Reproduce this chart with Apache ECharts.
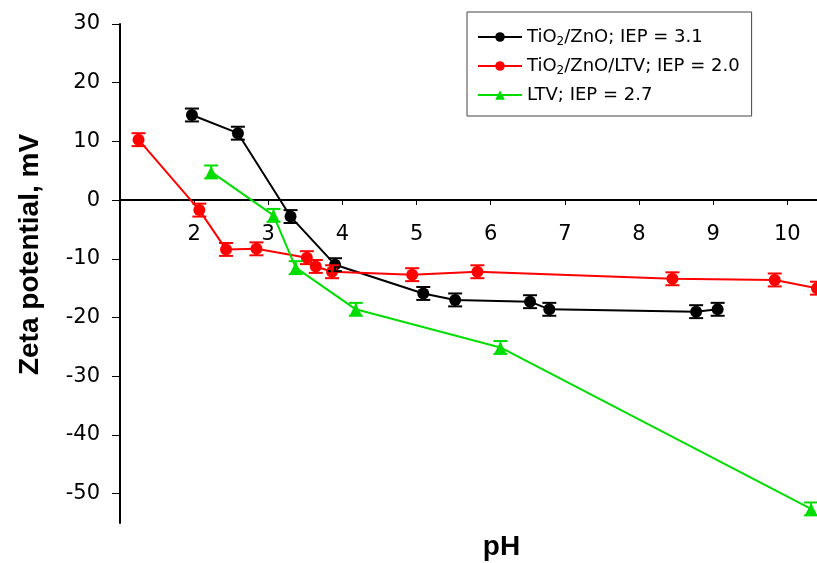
<!DOCTYPE html>
<html>
<head>
<meta charset="UTF-8">
<title>Zeta potential vs pH</title>
<script src="https://cdn.jsdelivr.net/npm/echarts@6/dist/echarts.min.js"></script>
<style>
  * { margin: 0; padding: 0; }
  body { background: #fff; }
  #chart { width: 817px; height: 563px; }
</style>
</head>
<body>
<div id="chart"></div>
<script>
// TiO2/ZnO
var phBlack   = [1.97, 2.59, 3.30, 3.90, 5.09, 5.52, 6.53, 6.79, 8.77, 9.06];
var zetaBlack = [14.5, 11.4, -2.8, -11.0, -15.9, -17.0, -17.3, -18.6, -19.0, -18.6];
var errBlack  = [1.1, 1.1, 1.1, 1.1, 1.1, 1.1, 1.1, 1.1, 1.1, 1.1];
// TiO2/ZnO/LTV
var phRed   = [1.25, 2.07, 2.43, 2.84, 3.52, 3.64, 3.86, 4.94, 5.82, 8.45, 9.83, 10.40];
var zetaRed = [10.3, -1.7, -8.4, -8.3, -9.8, -11.3, -12.2, -12.7, -12.2, -13.4, -13.6, -15.0];
var errRed  = [1.1, 1.1, 1.1, 1.1, 1.1, 1.1, 1.1, 1.1, 1.1, 1.1, 1.1, 1.1];
// LTV
var phGreen   = [2.23, 3.07, 3.37, 4.18, 6.13, 10.32];
var zetaGreen = [4.8, -2.6, -11.5, -18.6, -25.1, -52.6];
var errGreen  = [1.1, 1.1, 1.1, 1.1, 1.1, 1.1];

var xTicks = [2, 3, 4, 5, 6, 7, 8, 9, 10];
var yTicks = [-50, -40, -30, -20, -10, 0, 10, 20, 30];

var names = ['TiO2/ZnO; IEP = 3.1', 'TiO2/ZnO/LTV; IEP = 2.0', 'LTV; IEP = 2.7'];

function pairs(xs, ys) {
    return xs.map(function (x, i) { return [x, ys[i]]; });
}
function triples(xs, ys, es) {
    return xs.map(function (x, i) { return [x, ys[i], es[i]]; });
}

function errorBars(color) {
    return function (params, api) {
        var x = api.value(0), y = api.value(1), e = api.value(2);
        var hi = api.coord([x, y + e]);
        var lo = api.coord([x, y - e]);
        var w = 7;
        var st = { stroke: color, lineWidth: 2 };
        return {
            type: 'group',
            children: [
                { type: 'line', shape: { x1: hi[0], y1: hi[1], x2: lo[0], y2: lo[1] }, style: st },
                { type: 'line', shape: { x1: hi[0] - w, y1: hi[1], x2: hi[0] + w, y2: hi[1] }, style: st },
                { type: 'line', shape: { x1: lo[0] - w, y1: lo[1], x2: lo[0] + w, y2: lo[1] }, style: st }
            ]
        };
    };
}

function lineSeries(name, data, color, symbol, size) {
    return {
        name: name,
        type: 'line',
        data: data,
        symbol: symbol,
        symbolSize: size,
        lineStyle: { color: color, width: 2 },
        itemStyle: { color: color },
        animation: false,
        z: 3
    };
}
function errSeries(data, color) {
    return {
        type: 'custom',
        data: data,
        renderItem: errorBars(color),
        animation: false,
        silent: true,
        z: 4
    };
}

var chart = echarts.init(document.getElementById('chart'), null, { renderer: 'canvas' });

var font = 'Liberation Sans, Arial, sans-serif';
var tickFont = 'DejaVu Sans, sans-serif';

chart.setOption({
    backgroundColor: '#fff',
    textStyle: { fontFamily: font },
    grid: { left: 120, top: 24, right: 0, bottom: 40, containLabel: false, outerBoundsMode: 'none' },
    legend: {
        data: names,
        orient: 'vertical',
        left: 467,
        top: 12,
        padding: [16, 12, 12, 10],
        itemWidth: 44,
        itemHeight: 12,
        itemGap: 9,
        backgroundColor: '#fff',
        borderColor: '#444',
        borderWidth: 1,
        textStyle: {
            fontFamily: tickFont,
            fontSize: 18,
            color: '#000',
            rich: {
                a: { fontFamily: tickFont, fontSize: 18, color: '#000' },
                sub: { fontFamily: tickFont, fontSize: 12, color: '#000', padding: [10, 0, 0, 0] }
            }
        },
        formatter: function (name) {
            if (name.indexOf('TiO2') === 0) {
                return '{a|TiO}{sub|2}{a|' + name.slice(4) + '}';
            }
            return '{a|' + name + '}';
        }
    },
    xAxis: {
        type: 'value',
        min: 1,
        max: 10.4,
        position: 'bottom',
        offset: -323,
        name: 'pH',
        nameLocation: 'middle',
        nameGap: 333,
        nameTextStyle: { fontFamily: font, fontSize: 28, fontWeight: 'bold', color: '#000', padding: [0, 0, 0, 66] },
        axisLine: { onZero: false, lineStyle: { color: '#000', width: 2 } },
        axisTick: { show: true, length: 5, customValues: xTicks, lineStyle: { color: '#000', width: 1 } },
        axisLabel: { customValues: xTicks, fontFamily: tickFont, fontSize: 21, color: '#000', margin: 24 },
        splitLine: { show: false }
    },
    yAxis: {
        type: 'value',
        min: -55,
        max: 30,
        name: 'Zeta potential, mV',
        nameLocation: 'middle',
        nameGap: 76,
        nameTextStyle: { fontFamily: font, fontSize: 28, fontWeight: 'bold', color: '#000', padding: [0, 0, 0, 38] },
        axisLine: { show: true, onZero: false, lineStyle: { color: '#000', width: 2 } },
        axisTick: { show: true, length: 8, customValues: yTicks, lineStyle: { color: '#000', width: 1 } },
        axisLabel: { customValues: yTicks, fontFamily: tickFont, fontSize: 21, color: '#000', margin: 20 },
        splitLine: { show: false }
    },
    series: [
        lineSeries(names[0], pairs(phBlack, zetaBlack), '#000000', 'circle', 12),
        lineSeries(names[1], pairs(phRed, zetaRed), '#ff0000', 'circle', 12),
        lineSeries(names[2], pairs(phGreen, zetaGreen), '#00dd00', 'triangle', 12),
        errSeries(triples(phBlack, zetaBlack, errBlack), '#000000'),
        errSeries(triples(phRed, zetaRed, errRed), '#ff0000'),
        errSeries(triples(phGreen, zetaGreen, errGreen), '#00dd00')
    ]
});
</script>
</body>
</html>
